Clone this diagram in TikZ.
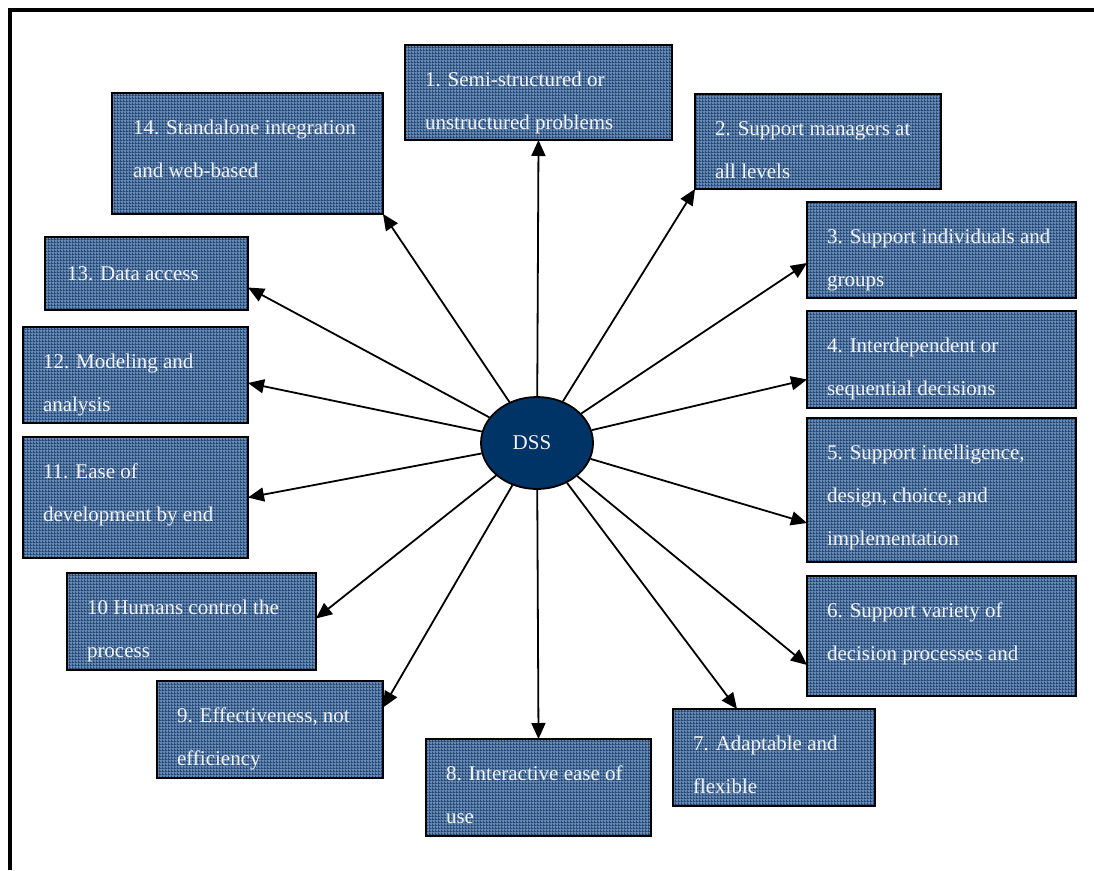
\documentclass[tikz,border=0pt]{standalone}
\usepackage{fontspec}
\setmainfont{Liberation Serif}
\usetikzlibrary{arrows.meta,shapes.geometric,patterns,calc}

% fine woven grid used as the texture of the feature cards
\pgfdeclarepatternformonly{dssgrid}{\pgfqpoint{0pt}{0pt}}{\pgfqpoint{3pt}{3pt}}{\pgfqpoint{3pt}{3pt}}{%
  \pgfpathrectangle{\pgfqpoint{0pt}{0pt}}{\pgfqpoint{3pt}{1pt}}%
  \pgfpathrectangle{\pgfqpoint{0pt}{0pt}}{\pgfqpoint{1pt}{3pt}}%
  \pgfusepath{fill}}

\definecolor{cellblue}{RGB}{102,137,180}
\definecolor{lineblue}{RGB}{36,70,115}
\definecolor{hubblue}{RGB}{0,51,102}
\definecolor{labelwhite}{RGB}{242,242,242}

\begin{document}
\begin{tikzpicture}[x=1pt,y=-1pt,
  card/.style={draw=black,line width=1.8pt,preaction={fill=cellblue},
    pattern=dssgrid,pattern color=lineblue,anchor=north west,
    inner sep=0pt,outer sep=0pt},
  cardtext/.style={anchor=north west,inner sep=0pt,outer sep=0pt,align=left,
    text=labelwhite,font=\fontsize{21}{43}\selectfont},
  hub/.style={ellipse,draw=black,line width=1.8pt,fill=hubblue,
    minimum width=112pt,minimum height=92pt,inner sep=0pt,
    text=labelwhite,font=\fontsize{21}{25}\selectfont},
  link/.style={line width=1.8pt,-{Triangle[length=16pt,width=14pt]}},
  frameline/.style={line width=3.5pt,draw=black},
]
\useasboundingbox (0,0) rectangle (1094,870);

% page frame (top and left rules)
\draw[frameline] (8,10) -- (1094,10);
\draw[frameline] (10,8) -- (10,870);

% feature cards
\node[card,minimum width=267pt,minimum height=95pt]  (b1)  at (405,45)  {};
\node[card,minimum width=246pt,minimum height=95pt]  (b2)  at (695,94)  {};
\node[card,minimum width=269pt,minimum height=96pt]  (b3)  at (807,202) {};
\node[card,minimum width=269pt,minimum height=97pt]  (b4)  at (807,311) {};
\node[card,minimum width=269pt,minimum height=144pt] (b5)  at (807,418) {};
\node[card,minimum width=269pt,minimum height=120pt] (b6)  at (807,576) {};
\node[card,minimum width=202pt,minimum height=97pt]  (b7)  at (673,709) {};
\node[card,minimum width=225pt,minimum height=97pt]  (b8)  at (426,739) {};
\node[card,minimum width=226pt,minimum height=97pt]  (b9)  at (157,681) {};
\node[card,minimum width=249pt,minimum height=97pt]  (b10) at (67,573)  {};
\node[card,minimum width=225pt,minimum height=121pt] (b11) at (23,437)  {};
\node[card,minimum width=225pt,minimum height=96pt]  (b12) at (23,327)  {};
\node[card,minimum width=203pt,minimum height=73pt]  (b13) at (45,237)  {};
\node[card,minimum width=271pt,minimum height=121pt] (b14) at (112,93)  {};

% card labels
\node[cardtext] (t1)  at ($(b1.north west)+(20,25)$)  {\rule{0pt}{16pt}1. Semi-structured or\\unstructured problems};
\node[cardtext] (t2)  at ($(b2.north west)+(20,25)$)  {\rule{0pt}{16pt}2. Support managers at\\all levels};
\node[cardtext] (t3)  at ($(b3.north west)+(20,25)$)  {\rule{0pt}{16pt}3. Support individuals and\\groups};
\node[cardtext] (t4)  at ($(b4.north west)+(20,25)$)  {\rule{0pt}{16pt}4. Interdependent or\\sequential decisions};
\node[cardtext] (t5)  at ($(b5.north west)+(20,25)$)  {\rule{0pt}{16pt}5. Support intelligence,\\design, choice, and\\implementation};
\node[cardtext] (t6)  at ($(b6.north west)+(20,25)$)  {\rule{0pt}{16pt}6. Support variety of\\decision processes and};
\node[cardtext] (t7)  at ($(b7.north west)+(20,25)$)  {\rule{0pt}{16pt}7. Adaptable and\\flexible};
\node[cardtext] (t8)  at ($(b8.north west)+(20,25)$)  {\rule{0pt}{16pt}8. Interactive ease of\\use};
\node[cardtext] (t9)  at ($(b9.north west)+(20,25)$)  {\rule{0pt}{16pt}9. Effectiveness, not\\efficiency};
\node[cardtext] (t10) at ($(b10.north west)+(20,25)$) {\rule{0pt}{16pt}10 Humans control the\\process};
\node[cardtext] (t11) at ($(b11.north west)+(20,25)$) {\rule{0pt}{16pt}11. Ease of\\development by end};
\node[cardtext] (t12) at ($(b12.north west)+(20,25)$) {\rule{0pt}{16pt}12. Modeling and\\analysis};
\node[cardtext] (t13) at ($(b13.north west)+(22,27)$) {\rule{0pt}{16pt}13. Data access};
\node[cardtext] (t14) at ($(b14.north west)+(21,25)$) {\rule{0pt}{16pt}14. Standalone integration\\and web-based};

% central hub
\node[hub] (dss) at (537,443) {\hspace*{-10pt}DSS};

% spokes
\draw[link] (dss) -- (b1.south);
\draw[link] (dss) -- (b2.south west);
\draw[link] (dss) -- ($(b3.west)+(0,13)$);
\draw[link] (dss) -- ($(b4.west)+(0,20)$);
\draw[link] (dss) -- ($(b5.west)+(0,33)$);
\draw[link] (dss) -- ($(b6.west)+(0,29)$);
\draw[link] (dss) -- ($(b7.north)+(-37,0)$);
\draw[link] (dss) -- (b8.north);
\draw[link] (dss) -- ($(b9.east)+(0,-22)$);
\draw[link] (dss) -- ($(b10.east)+(0,-3)$);
\draw[link] (dss) -- (b11.east);
\draw[link] (dss) -- ($(b12.east)+(0,8)$);
\draw[link] (dss) -- ($(b13.east)+(0,14)$);
\draw[link] (dss) -- (b14.south east);
\end{tikzpicture}
\end{document}
